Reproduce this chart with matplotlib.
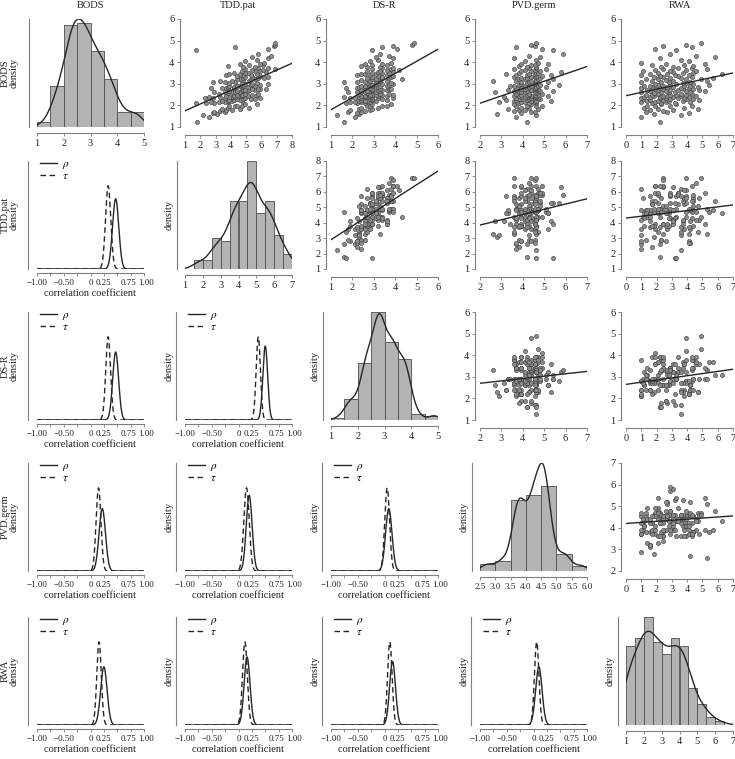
import numpy as np
import matplotlib
matplotlib.use('Agg')
import matplotlib.pyplot as plt
from matplotlib.transforms import ScaledTranslation, blended_transform_factory

plt.rcParams['font.family'] = ['Liberation Serif', 'DejaVu Serif']
plt.rcParams['mathtext.fontset'] = 'stix'
plt.rcParams['font.size'] = 7.5

names = ['BODS', 'TDD.pat', 'DS-R', 'PVD.germ', 'RWA']

# per-subject scores (read/estimated from the scatter plots and histograms)
bods = [1.25, 1.45, 1.55, 1.6, 1.65, 1.7, 1.7, 1.75, 1.8, 1.8, 1.85, 1.85, 1.9, 1.9, 1.95, 1.95, 1.97, 1.98, 2.05, 2.08,
        2.1, 2.1, 2.12, 2.14, 2.15, 2.15, 2.18, 2.2, 2.2, 2.2, 2.22, 2.24, 2.25, 2.25, 2.28, 2.3, 2.3, 2.3, 2.32, 2.33,
        2.35, 2.35, 2.35, 2.38, 2.4, 2.4, 2.4, 2.4, 2.42, 2.43, 2.45, 2.45, 2.45, 2.46, 2.47, 2.48, 2.48, 2.49, 2.52, 2.55,
        2.55, 2.58, 2.6, 2.6, 2.6, 2.62, 2.63, 2.65, 2.65, 2.65, 2.68, 2.7, 2.7, 2.7, 2.72, 2.73, 2.75, 2.75, 2.75, 2.78,
        2.8, 2.8, 2.8, 2.82, 2.83, 2.85, 2.85, 2.85, 2.88, 2.9, 2.9, 2.9, 2.92, 2.93, 2.95, 2.95, 2.97, 2.98, 2.99, 3.05,
        3.05, 3.08, 3.1, 3.1, 3.1, 3.12, 3.15, 3.15, 3.18, 3.2, 3.2, 3.2, 3.22, 3.25, 3.25, 3.28, 3.3, 3.3, 3.32, 3.35,
        3.38, 3.4, 3.4, 3.42, 3.45, 3.45, 3.47, 3.48, 3.49, 3.52, 3.55, 3.58, 3.6, 3.6, 3.62, 3.65, 3.68, 3.7, 3.72, 3.75,
        3.78, 3.8, 3.82, 3.85, 3.88, 3.9, 3.92, 3.95, 4.05, 4.1, 4.2, 4.25, 4.3, 4.4, 4.55, 4.6, 4.7, 4.75, 4.8, 4.9]
tdd = [1.8, 2.6, 2.2, 3.1, 2.8, 3.6, 2.9, 3.3, 4.1, 3.7, 3.4, 4.6, 3.8, 5.2, 4.3, 3.9, 4.7, 4.4, 5.7, 4.9,
       2.4, 1.7, 2.9, 3.2, 2.7, 3.8, 3.6, 4.1, 3.4, 4.7, 3.8, 4.2, 4.6, 3.9, 5.3, 4.4, 4.8, 5.6, 4.9, 5.9,
       2.8, 2.3, 3.6, 2.6, 4.1, 3.3, 3.9, 4.3, 4.6, 3.7, 4.7, 4.2, 5.1, 4.8, 4.4, 5.7, 4.7, 5.4, 4.9, 5.8,
       3.2, 3.8, 2.9, 4.1, 3.6, 4.6, 4.3, 3.9, 4.8, 5.1, 4.4, 4.7, 5.6, 4.8, 5.2, 4.9, 5.9, 5.4, 6.3, 5.8,
       3.7, 2.7, 4.2, 3.4, 4.7, 3.8, 5.1, 4.2, 3.9, 4.6, 5.6, 4.8, 4.4, 5.3, 4.7, 5.9, 4.9, 6.4, 5.4, 5.7,
       3.9, 2.8, 4.3, 3.6, 4.7, 3.3, 5.2, 4.1, 4.8, 5.6, 4.6, 4.4, 5.3, 6.2, 4.8, 5.8, 4.9, 5.4, 6.4, 5.9,
       4.4, 3.7, 4.8, 5.3, 3.9, 4.6, 5.7, 4.2, 5.1, 4.9, 6.3, 5.6, 4.7, 5.9, 6.1, 5.4, 4.9, 6.9, 5.8, 6.4,
       4.8, 5.6, 3.8, 5.2, 6.1, 4.6, 5.9, 6.2, 4.9, 5.7, 6.4, 5.4, 6.6, 5.8, 1.7, 6.4, 4.3, 6.8, 6.9, 6.9]
dsr = [1.6, 2.1, 1.3, 2.3, 2.2, 1.8, 2.4, 2.6, 1.9, 2.8, 2.3, 2.9, 3.2, 2.4, 2.7, 3.6, 2.8, 3.4, 2.9, 3.8,
       2.2, 1.7, 2.6, 2.1, 2.4, 1.9, 2.8, 2.3, 2.7, 3.1, 2.6, 2.9, 2.4, 3.6, 2.8, 2.9, 3.4, 2.9, 3.9, 3.2,
       1.9, 2.4, 2.1, 1.6, 2.7, 2.3, 2.9, 2.6, 3.2, 2.4, 2.8, 3.6, 2.6, 3.1, 2.9, 3.4, 2.8, 3.9, 3.3, 3.7,
       2.3, 2.7, 1.8, 2.6, 2.4, 3.1, 2.2, 2.9, 2.8, 3.3, 2.7, 2.4, 3.6, 2.9, 3.2, 3.4, 2.9, 3.7, 3.3, 3.8,
       2.6, 2.2, 2.8, 1.7, 3.1, 2.7, 2.3, 3.2, 2.9, 2.6, 3.6, 2.4, 3.3, 2.8, 3.7, 2.9, 3.1, 3.9, 3.4, 3.8,
       2.7, 2.2, 3.1, 2.6, 1.6, 3.3, 2.8, 3.6, 2.4, 3.2, 2.9, 4.3, 3.1, 2.7, 3.7, 3.4, 2.9, 3.8, 3.4, 3.9,
       3.2, 2.2, 2.8, 3.6, 2.6, 3.1, 2.4, 3.4, 2.9, 3.7, 3.2, 2.7, 3.9, 3.3, 4.2, 3.6, 2.9, 3.8, 3.4, 3.9,
       2.7, 3.3, 2.4, 2.9, 3.6, 2.6, 3.4, 3.8, 2.8, 3.2, 3.9, 3.1, 3.7, 3.3, 2.9, 4.1, 3.4, 3.9, 4.8, 4.9]
pvd = [4.2, 3.7, 4.6, 2.8, 3.9, 4.4, 4.55, 3.6, 4.1, 3.8, 4.7, 3.3, 4.3, 3.9, 4.6, 3.7, 4.2, 4.9, 3.6, 4.4,
       3.8, 4.6, 4.3, 2.9, 4.55, 3.9, 4.1, 5.3, 3.6, 4.4, 4.6, 3.7, 3.2, 4.2, 4.8, 3.9, 4.3, 3.8, 4.7, 4.4,
       4.4, 3.7, 4.55, 4.2, 3.1, 4.6, 3.9, 4.1, 5.2, 3.6, 4.6, 4.4, 3.8, 4.7, 4.3, 3.9, 4.55, 4.2, 3.7, 4.9,
       4.3, 4.6, 3.8, 2.7, 4.55, 4.1, 3.9, 5.4, 4.2, 4.8, 3.6, 4.4, 4.6, 3.3, 4.4, 3.7, 4.7, 4.1, 3.9, 4.55,
       4.6, 3.7, 4.2, 4.55, 5.1, 3.9, 4.3, 4.6, 3.4, 4.1, 3.6, 4.7, 4.4, 5.7, 3.8, 4.8, 4.3, 3.9, 4.55, 4.2,
       4.55, 3.9, 4.3, 5.2, 4.6, 2.6, 3.7, 4.4, 4.6, 4.1, 3.8, 4.7, 5.4, 4.2, 3.9, 4.8, 4.55, 3.6, 4.4, 4.9,
       4.6, 4.2, 3.7, 5.3, 4.55, 4.3, 3.2, 4.6, 3.8, 4.7, 5.8, 4.4, 3.9, 4.8, 4.1, 4.55, 5.1, 3.6, 4.3, 4.6,
       4.2, 4.6, 3.8, 4.55, 4.4, 5.2, 3.9, 4.7, 4.1, 4.6, 3.6, 4.8, 4.3, 5.9, 5.4, 4.9, 3.7, 4.55, 4.4, 4.6]
rwa = [2.2, 1.0, 3.6, 1.8, 4.1, 2.7, 1.3, 2.4, 3.1, 1.6, 4.7, 2.1, 1.2, 3.8, 2.9, 1.9, 4.3, 1.4, 3.3, 2.3,
       1.7, 3.2, 2.3, 1.0, 4.2, 2.6, 1.9, 3.7, 2.1, 1.4, 2.8, 4.8, 1.6, 2.4, 3.9, 1.1, 2.9, 4.4, 2.2, 3.4,
       2.6, 1.0, 3.8, 2.2, 1.6, 4.1, 3.1, 1.2, 2.7, 3.6, 1.8, 4.6, 2.4, 1.3, 3.3, 2.9, 3.9, 1.7, 4.3, 2.1,
       3.6, 1.8, 2.3, 4.2, 1.0, 2.8, 3.2, 5.2, 1.6, 2.6, 3.9, 2.1, 4.8, 1.4, 3.4, 2.9, 1.9, 3.7, 2.4, 4.4,
       2.2, 4.1, 1.0, 3.6, 2.7, 1.7, 4.7, 3.1, 2.4, 1.2, 3.8, 4.2, 1.6, 2.9, 5.4, 2.1, 3.3, 1.9, 4.4, 3.9,
       3.7, 1.0, 2.8, 4.2, 2.3, 5.3, 1.7, 3.1, 2.6, 3.9, 1.3, 4.9, 2.1, 3.6, 5.7, 2.9, 1.8, 4.3, 2.4, 3.4,
       2.2, 4.1, 1.0, 3.2, 2.7, 6.3, 1.6, 3.7, 4.4, 2.1, 3.1, 1.1, 4.6, 2.9, 3.9, 1.9, 5.3, 2.4, 3.4, 4.3,
       3.1, 2.3, 4.4, 1.7, 3.8, 2.6, 5.2, 1.0, 4.1, 3.6, 2.2, 5.8, 4.6, 2.9, 3.3, 1.9, 4.3, 2.4, 3.9, 4.9]
scores = [np.array(v) for v in (bods, tdd, dsr, pvd, rwa)]

# histogram bins and axis ticks of the diagonal panels
hist_edges = [np.arange(1, 5.01, 0.5), np.arange(1.5, 7.01, 0.5), np.arange(1, 5.01, 0.5),
              np.arange(2.5, 6.01, 0.5), np.arange(1, 6.51, 0.5)]
hist_ticks = [[1, 2, 3, 4, 5], [1, 2, 3, 4, 5, 6, 7], [1, 2, 3, 4, 5],
              [2.5, 3.0, 3.5, 4.0, 4.5, 5.0, 5.5, 6.0], [1, 2, 3, 4, 5, 6, 7]]

# scatter axis ticks (x when the variable is a column, y when it is a row)
x_ticks = [None, [1, 2, 3, 4, 5, 6, 7, 8], [1, 2, 3, 4, 5, 6], [2, 3, 4, 5, 6, 7], [0, 1, 2, 3, 4, 5, 6, 7]]
y_ticks = [[1, 2, 3, 4, 5, 6], [1, 2, 3, 4, 5, 6, 7, 8], [1, 2, 3, 4, 5, 6], [2, 3, 4, 5, 6, 7], None]

# fitted lines: value at left and right end of the x axis
fit_lines = {(0, 1): (1.75, 3.95), (0, 2): (1.8, 4.6), (0, 3): (2.1, 3.8), (0, 4): (2.45, 3.5),
             (1, 2): (2.9, 7.35), (1, 3): (3.85, 5.55), (1, 4): (4.3, 5.15),
             (2, 3): (2.7, 3.25), (2, 4): (2.65, 3.35), (3, 4): (4.2, 4.55)}

# posterior of the correlation coefficients (mean, sd)
pairs = [(1, 0), (2, 0), (2, 1), (3, 0), (3, 1), (3, 2), (4, 0), (4, 1), (4, 2), (4, 3)]
rho_mean = [0.47, 0.47, 0.50, 0.22, 0.20, 0.08, 0.25, 0.16, 0.15, 0.10]
rho_sd = [0.058, 0.055, 0.045, 0.060, 0.055, 0.060, 0.060, 0.055, 0.055, 0.060]
tau_mean = [0.33, 0.33, 0.37, 0.15, 0.15, 0.05, 0.16, 0.12, 0.10, 0.06]
tau_sd = [0.049, 0.045, 0.040, 0.045, 0.050, 0.045, 0.042, 0.045, 0.042, 0.042]

corr_ticks = [-1, -0.75, -0.5, -0.25, 0, 0.25, 0.5, 0.75, 1]
corr_labels = ['\u22121.00', '', '\u22120.50', '', '0', '0.25', '', '', '']

W, H = 735, 759
fig = plt.figure(figsize=(W / 100, H / 100), dpi=100)
lefts = [37, 185, 331, 480, 626]
tops = [19, 161, 312, 463, 617]
pw, ph = 107, 108
grey = '#7f7f7f'
dark = '#262626'


def new_axes(i, j):
    ax = fig.add_axes([lefts[j] / W, 1 - (tops[i] + ph) / H, pw / W, ph / H])
    ax.patch.set_visible(False)
    for s in ['top', 'right']:
        ax.spines[s].set_visible(False)
    for s in ['left', 'bottom']:
        ax.spines[s].set_color(grey)
        ax.spines[s].set_linewidth(0.8)
    ax.tick_params(direction='out', length=2.5, width=0.6, color=grey,
                   labelsize=7.5, pad=1.5, labelcolor='#222222')
    return ax


def kde(x, grid):
    n = len(x)
    iqr = np.percentile(x, 75) - np.percentile(x, 25)
    bw = 0.9 * min(x.std(ddof=1), iqr / 1.34) * n ** -0.2
    z = (grid[:, None] - x[None, :]) / bw
    return np.exp(-0.5 * z ** 2).sum(1) / (n * bw * np.sqrt(2 * np.pi))


def normal(grid, m, s):
    return np.exp(-0.5 * ((grid - m) / s) ** 2) / (s * np.sqrt(2 * np.pi))


def ylab(i, j, txt):
    x = 14 if j == 0 else lefts[j] - 16
    fig.text(x / W, 1 - (tops[i] + ph / 2) / H, txt, rotation=90, ha='center', va='center',
             fontsize=7.5, color='#222222')


for i in range(5):
    for j in range(5):
        ax = new_axes(i, j)
        if i == j:
            # diagonal: histogram + density
            x = scores[i]
            dens, edges = np.histogram(x, bins=hist_edges[i], density=True)
            ax.bar(edges[:-1], dens, width=np.diff(edges), align='edge', color='#b3b3b3',
                   edgecolor='#4d4d4d', linewidth=0.6)
            xt = hist_ticks[i]
            grid = np.linspace(xt[0], xt[-1], 400)
            d = kde(x, grid)
            ax.plot(grid, d, color=dark, lw=1.0)
            ax.set_xlim(xt[0], xt[-1])
            ax.set_ylim(0, max(d.max(), dens.max()))
            ax.set_xticks(xt)
            if i == 3:
                ax.set_xticklabels(['%.1f' % t for t in xt])
                ax.tick_params(axis='x', labelsize=6.6)
            ax.set_yticks([])
            ax.spines['left'].set_position(('outward', 5.8))
            ax.spines['bottom'].set_position(('outward', 4.3))
            ylab(i, j, 'density')
        elif j > i:
            # upper triangle: scatter + fitted line
            xt, yt = x_ticks[j], y_ticks[i]
            ax.scatter(scores[j], scores[i], s=9, c='#8c8c8c', edgecolors='#3a3a3a',
                       linewidths=0.4, clip_on=False, zorder=3)
            y0, y1 = fit_lines[(i, j)]
            ax.plot([xt[0], xt[-1]], [y0, y1], color=dark, lw=1.0, zorder=4)
            ax.set_xlim(xt[0], xt[-1])
            ax.set_ylim(yt[0], yt[-1])
            ax.set_xticks(xt)
            ax.set_yticks(yt)
            ax.spines['left'].set_position(('outward', 3.6))
            ax.spines['bottom'].set_position(('outward', 5.8))
        else:
            # lower triangle: posterior densities of rho and tau
            k = pairs.index((i, j))
            grid = np.linspace(-1, 1, 801)
            r = normal(grid, rho_mean[k], rho_sd[k])
            t = normal(grid, tau_mean[k], tau_sd[k])
            ax.plot(grid, r, color=dark, lw=1.0, label=r'$\rho$')
            ax.plot(grid, t, color=dark, lw=1.0, ls=(0, (4, 2.5)), label=r'$\tau$')
            ax.set_xlim(-1, 1)
            ax.set_ylim(0, max(r.max(), t.max()) / 0.77)
            ax.set_xticks(corr_ticks)
            ax.set_xticklabels(corr_labels)
            ax.tick_params(axis='x', labelsize=6.5)
            # the two crowded labels at the right end, pushed slightly apart
            base = blended_transform_factory(ax.transData, ax.transAxes)
            for val, txt, dx in [(0.75, '0.75', -2.0), (1.0, '1.00', 2.4)]:
                tr = base + ScaledTranslation(dx / 100, -6.9 / 72, fig.dpi_scale_trans)
                ax.text(val, 0, txt, transform=tr, ha='center', va='top', fontsize=6.5,
                        color='#222222')
            ax.set_yticks([])
            ax.set_xlabel('correlation coefficient', fontsize=7.5, labelpad=2, color='#222222')
            ax.spines['left'].set_position(('outward', 6.5))
            ax.spines['bottom'].set_position(('outward', 2.9))
            ax.legend(loc='upper left', frameon=False, fontsize=8, handlelength=1.5,
                      handletextpad=0.5, labelspacing=0.05, borderaxespad=0, borderpad=0,
                      bbox_to_anchor=(0.03, 1.02))
            ylab(i, j, 'density')

# column titles and row labels
for j in range(5):
    fig.text((lefts[j] + pw / 2) / W, 1 - 6 / H, names[j], ha='center', va='center',
             fontsize=7.5, color='#222222')
for i in range(5):
    fig.text(5 / W, 1 - (tops[i] + ph / 2) / H, names[i], rotation=90, ha='center',
             va='center', fontsize=7.5, color='#222222')

fig.savefig('out.png', dpi=100)
